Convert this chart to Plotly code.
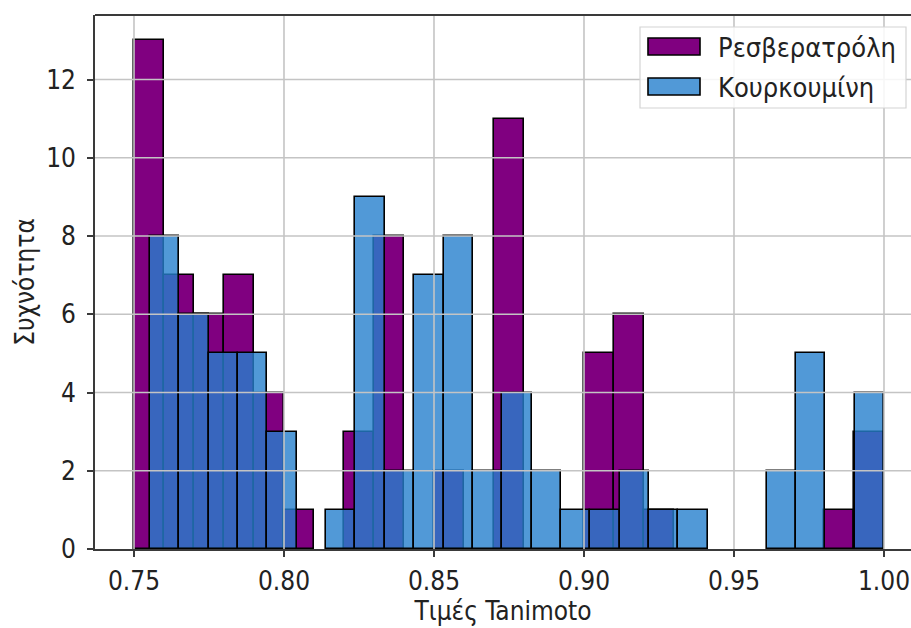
import numpy as np
import plotly.graph_objects as go

# ---- data ----
series_names = ["Ρεσβερατρόλη", "Κουρκουμίνη"]
resv_counts = [13, 7, 6, 7, 4, 1, 0, 3, 8, 0, 2, 0, 11, 0, 0, 5, 6, 1, 0, 0, 0, 0, 0, 1, 3]
curc_counts = [8, 6, 5, 5, 3, 0, 1, 9, 2, 7, 8, 2, 4, 2, 1, 1, 2, 1, 1, 0, 0, 2, 5, 0, 4]
resv_range = [0.75, 1.00]
curc_range = [0.7553, 1.00]
x_ticks = [0.75, 0.80, 0.85, 0.90, 0.95, 1.00]
x_tick_labels = ["0.75", "0.80", "0.85", "0.90", "0.95", "1.00"]
y_ticks = [0, 2, 4, 6, 8, 10, 12]
y_tick_labels = ["0", "2", "4", "6", "8", "10", "12"]
x_title = "Τιμές Tanimoto"
y_title = "Συχνότητα"

W, H = 911, 628
ML, MR, MT, MB = 95, 0, 15, 79
PW, PH = W - ML - MR, H - MT - MB
FONT = "DejaVu Sans Condensed, DejaVu Sans, sans-serif"
FS = 26


def bins(rng, counts):
    edges = np.linspace(rng[0], rng[1], len(counts) + 1)
    centers = (edges[:-1] + edges[1:]) / 2
    heights = [c if c > 0 else None for c in counts]  # empty bins draw nothing
    return centers, np.diff(edges), heights


rx, rw, ry = bins(resv_range, resv_counts)
cx, cw, cy = bins(curc_range, curc_counts)

PURPLE = "rgb(128,0,128)"
BLUE = "rgba(38,128,205,0.8)"

fig = go.Figure()
fig.add_trace(go.Bar(x=rx, y=ry, width=rw, name=series_names[0],
                     marker=dict(color=PURPLE, line=dict(color="black", width=1.6))))
fig.add_trace(go.Bar(x=cx, y=cy, width=cw, name=series_names[1],
                     marker=dict(color=BLUE, line=dict(color="black", width=1.6))))


def px2paper(px, py):
    return (px - ML) / PW, 1 - (py - MT) / PH


shapes = []
GRID = "#c4c4c4"
# gridlines drawn above bars, as in the reference
for t in x_ticks:
    shapes.append(dict(type="line", xref="x", yref="paper", x0=t, x1=t, y0=0, y1=1,
                       line=dict(color=GRID, width=1.6), layer="above"))
for t in y_ticks[1:]:
    shapes.append(dict(type="line", xref="paper", yref="y", x0=0, x1=1, y0=t, y1=t,
                       line=dict(color=GRID, width=1.6), layer="above"))
# top spine
shapes.append(dict(type="line", xref="paper", yref="paper", x0=0, x1=1, y0=1, y1=1,
                   line=dict(color="#3a3a3a", width=1.8), layer="above"))

# custom legend
lx0, ly0 = px2paper(640, 27)
lx1, ly1 = px2paper(906, 108)
shapes.append(dict(type="rect", xref="paper", yref="paper", x0=lx0, x1=lx1, y0=ly1, y1=ly0,
                   fillcolor="rgba(255,255,255,0.85)", line=dict(color="#d4d4d4", width=1.2),
                   layer="above"))
annotations = []
rows = [(PURPLE, 38, 55, 47, series_names[0]), (BLUE, 78, 95, 87, series_names[1])]
for col, top, bot, mid, name in rows:
    a0, b0 = px2paper(648, top)
    a1, b1 = px2paper(700, bot)
    shapes.append(dict(type="rect", xref="paper", yref="paper", x0=a0, x1=a1, y0=b1, y1=b0,
                       fillcolor=col, line=dict(color="black", width=1.6), layer="above"))
    tx, ty = px2paper(716, mid)
    annotations.append(dict(xref="paper", yref="paper", x=tx, y=ty, text=name, showarrow=False,
                            xanchor="left", yanchor="middle",
                            font=dict(family=FONT, size=FS + 1, color="#222")))

fig.update_layout(
    width=W, height=H,
    margin=dict(l=ML, r=MR, t=MT, b=MB),
    paper_bgcolor="white", plot_bgcolor="white",
    barmode="overlay", bargap=0, showlegend=False,
    font=dict(family=FONT, size=FS, color="#222"),
    shapes=shapes, annotations=annotations,
)
fig.update_xaxes(range=[0.737, 1.009], tickvals=x_ticks, ticktext=x_tick_labels,
                 showgrid=False, zeroline=False, showline=True, linecolor="#3a3a3a", linewidth=1.8,
                 ticks="outside", ticklen=6, tickwidth=1.5, tickcolor="#3a3a3a",
                 ticklabelstandoff=2,
                 title=dict(text=x_title, standoff=3, font=dict(size=FS)))
fig.update_yaxes(range=[0, 13.65], tickvals=y_ticks, ticktext=y_tick_labels,
                 showgrid=False, zeroline=False, showline=True, linecolor="#3a3a3a", linewidth=1.8,
                 ticks="outside", ticklen=6, tickwidth=1.5, tickcolor="#3a3a3a",
                 ticklabelstandoff=6,
                 title=dict(text=y_title, standoff=4, font=dict(size=FS)))

fig.write_html("out.html")
